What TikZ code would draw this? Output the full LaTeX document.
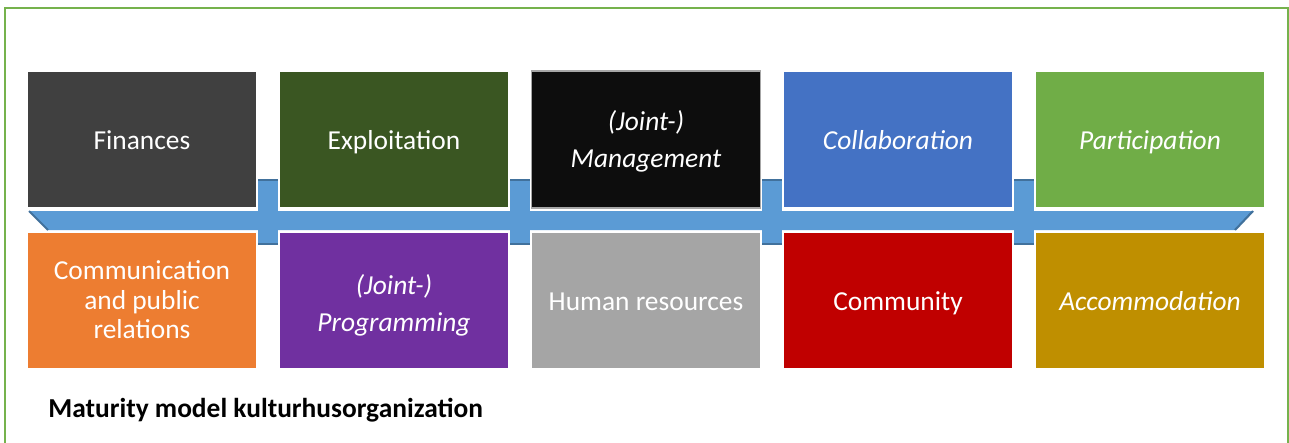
\documentclass[tikz,border=0pt]{standalone}
\usepackage{fontspec}
\setmainfont{Carlito}
\usetikzlibrary{positioning}

\definecolor{framegreen}{HTML}{75B24C}
\definecolor{bandblue}{HTML}{5B9BD5}
\definecolor{banddark}{HTML}{41719C}
\definecolor{cfin}{HTML}{404040}
\definecolor{cexp}{HTML}{3A5622}
\definecolor{cman}{HTML}{0D0D0D}
\definecolor{ccol}{HTML}{4472C4}
\definecolor{cpar}{HTML}{70AD47}
\definecolor{ccom}{HTML}{ED7D31}
\definecolor{cprg}{HTML}{7030A0}
\definecolor{chum}{HTML}{A5A5A5}
\definecolor{ccty}{HTML}{C00000}
\definecolor{cacc}{HTML}{BF8F00}

% taller first line, pushes a block of lines down a little
\newcommand{\liftline}[1]{\rule{0pt}{#1}}

\tikzset{
    stage/.style={draw=white, line width=0.6pt, text=white,
        minimum width=4.58cm, minimum height=2.74cm, inner sep=0pt,
        align=center, font=\fontsize{15.6pt}{16.8pt}\selectfont,
        execute at begin node=\rule{0pt}{15pt},
        execute at end node=\rule[-4pt]{0pt}{0pt}},
    node distance=0.44cm
}

\begin{document}
\begin{tikzpicture}[x=0.02cm, y=-0.02cm]
    \useasboundingbox (0,0) rectangle (1289,443);

    \draw [framegreen, line width=1.2pt] (5,460) -- (5,8) -- (1288,8) -- (1288,460);   % outer frame

    % the band with its cross pieces
    \fill [bandblue] (29,211) -- (1253,211) -- (1235,230) -- (48,230) -- cycle;
    \foreach \x in {258,510,762,1014} {
        \fill [bandblue] (\x,179) rectangle ++(20,66);
        \draw [banddark, line width=1.2pt] (\x,180) -- ++(20,0);
        \draw [banddark, line width=1.2pt] (\x,244) -- ++(20,0);
    }
    \draw [banddark, line width=1.2pt] (29,211) -- (48,230);
    \draw [banddark, line width=1.2pt] (1253,211) -- (1235,230);

    % top row
    \node [stage, fill=cfin] (fin) at (142,139.5) {Finances};
    \node [stage, fill=cexp, right=of fin] (exp) {Exploitation};
    \node [stage, fill=cman, right=of exp, draw=gray!70] (man) {\liftline{15pt}\itshape (Joint-)\\[4pt]\itshape Management};
    \node [stage, fill=ccol, right=of man] (col) {\itshape Collaboration};
    \node [stage, fill=cpar, right=of col] (par) {\itshape Participation};

    % bottom row
    \node [stage, fill=ccom, below=0.46cm of fin] (com) {\liftline{14pt}Communication\\and public\\relations};
    \node [stage, fill=cprg, below=0.46cm of exp] (prg) {\liftline{18pt}\itshape (Joint-)\\[4pt]\itshape Programming};
    \node [stage, fill=chum, below=0.46cm of man] (hum) {Human resources};
    \node [stage, fill=ccty, below=0.46cm of col] (cty) {Community};
    \node [stage, fill=cacc, below=0.46cm of par] (acc) {\itshape Accommodation};

    \node [anchor=base west, inner sep=0pt, font=\fontsize{15.6pt}{18pt}\selectfont\bfseries] (title) at (48,417)
        {Maturity model kulturhusorganization};
\end{tikzpicture}
\end{document}
